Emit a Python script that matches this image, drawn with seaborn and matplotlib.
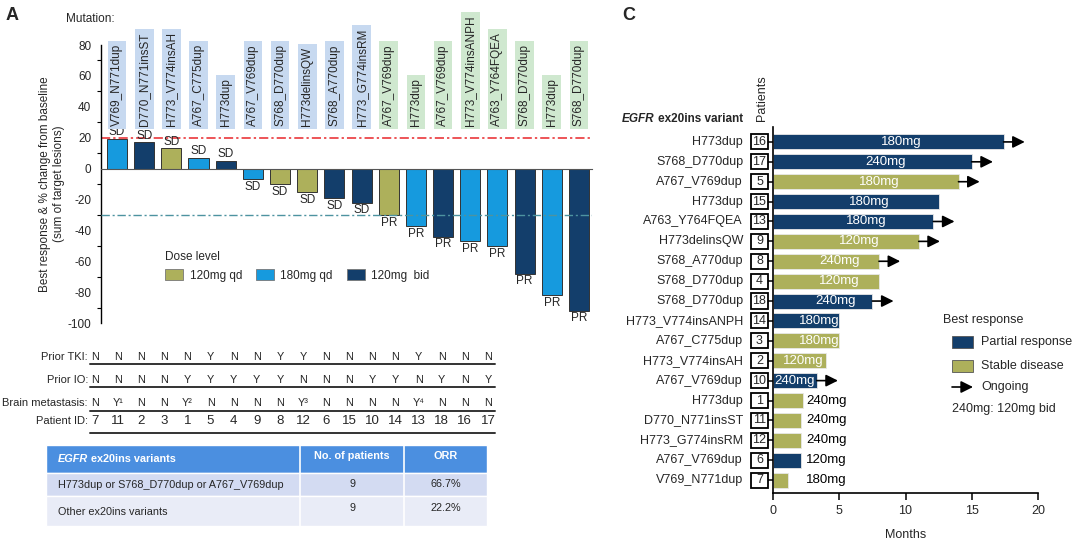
import numpy as np
import pandas as pd
import matplotlib
matplotlib.use('Agg')
import matplotlib.pyplot as plt
import matplotlib.patches as mpatches
import matplotlib.transforms as mtransforms
from matplotlib.text import Annotation
from matplotlib.ticker import MultipleLocator
import seaborn as sns

# ---------------- Panel A data ----------------
patient_ids_a = ['7', '11', '2', '3', '1', '5', '4', '9', '8', '12', '6', '15', '10', '14', '13', '18', '16', '17']
best_change = [19, 17, 13, 7, 5, -7, -10, -15, -19, -22, -30, -37, -44, -47, -50, -68, -82, -92]
dose_a = ['180mg qd', '120mg  bid', '120mg qd', '180mg qd', '120mg  bid', '180mg qd', '120mg qd', '120mg qd',
          '120mg  bid', '120mg  bid', '120mg qd', '180mg qd', '120mg  bid', '180mg qd', '180mg qd', '120mg  bid',
          '180mg qd', '120mg  bid']
response_a = ['SD'] * 10 + ['PR'] * 8
mutations_a = ['V769_N771dup', 'D770_N771insST', 'H773_V774insAH', 'A767_C775dup', 'H773dup', 'A767_V769dup',
               'S768_D770dup', 'H773delinsQW', 'S768_A770dup', 'H773_G774insRM', 'A767_V769dup', 'H773dup',
               'A767_V769dup', 'H773_V774insANPH', 'A763_Y764FQEA', 'S768_D770dup', 'H773dup', 'S768_D770dup']
prior_tki = ['N', 'N', 'N', 'N', 'N', 'Y', 'N', 'N', 'Y', 'Y', 'N', 'N', 'N', 'N', 'Y', 'N', 'N', 'N']
prior_io = ['N', 'N', 'N', 'N', 'Y', 'Y', 'Y', 'Y', 'Y', 'N', 'N', 'N', 'Y', 'Y', 'N', 'Y', 'N', 'Y']
brain_met = ['N', 'Y¹', 'N', 'N', 'Y²', 'N', 'N', 'N', 'N', 'Y³', 'N', 'N', 'N', 'N', 'Y⁴', 'N', 'N', 'N']
dose_levels = ['120mg qd', '180mg qd', '120mg  bid']

# ORR table
orr_header = ['ex20ins variants', 'No. of patients', 'ORR']
orr_groups = ['H773dup or S768_D770dup or A767_V769dup', 'Other ex20ins variants']
orr_n = [9, 9]
orr_rate = ['66.7%', '22.2%']

# ---------------- Panel C data ----------------
variants_c = ['H773dup', 'S768_D770dup', 'A767_V769dup', 'H773dup', 'A763_Y764FQEA', 'H773delinsQW',
              'S768_A770dup', 'S768_D770dup', 'S768_D770dup', 'H773_V774insANPH', 'A767_C775dup',
              'H773_V774insAH', 'A767_V769dup', 'H773dup', 'D770_N771insST', 'H773_G774insRM',
              'A767_V769dup', 'V769_N771dup']
patients_c = ['16', '17', '5', '15', '13', '9', '8', '4', '18', '14', '3', '2', '10', '1', '11', '12', '6', '7']
months_c = [17.4, 15.0, 14.0, 12.5, 12.1, 11.0, 8.0, 8.0, 7.5, 5.0, 5.0, 4.0, 3.3, 2.3, 2.1, 2.1, 2.1, 1.1]
response_c = ['Partial response', 'Partial response', 'Stable disease', 'Partial response', 'Partial response',
              'Stable disease', 'Stable disease', 'Stable disease', 'Partial response', 'Partial response',
              'Stable disease', 'Stable disease', 'Partial response', 'Stable disease', 'Stable disease',
              'Stable disease', 'Partial response', 'Stable disease']
dose_c = ['180mg', '240mg', '180mg', '180mg', '180mg', '120mg', '240mg', '120mg', '240mg', '180mg', '180mg',
          '120mg', '240mg', '240mg', '240mg', '240mg', '120mg', '180mg']
ongoing_c = [True, True, True, False, True, True, True, False, True, False, False, False, True, False, False,
             False, False, False]
response_levels = ['Partial response', 'Stable disease']

# ---------------- Styling ----------------
sns.set_style('white')
plt.rcParams['font.family'] = ['Liberation Sans', 'DejaVu Sans']
plt.rcParams['axes.unicode_minus'] = False
OLIVE = '#adb05b'
BLUE = '#169ade'
NAVY = '#133e6b'
dose_palette = {'120mg qd': OLIVE, '180mg qd': BLUE, '120mg  bid': NAVY}
resp_palette = {'Partial response': NAVY, 'Stable disease': OLIVE}

W, H = 1080, 544
fig = plt.figure(figsize=(W / 100, H / 100), dpi=100)


def fx(x):
    return x / W


def fy(y):
    return 1 - y / H


# ================= Panel A =================
axA = fig.add_axes([fx(101), fy(323), (592 - 101) / W, (323 - 45) / H])
df_a = pd.DataFrame({'pid': patient_ids_a, 'change': best_change, 'dose': dose_a})
sns.barplot(data=df_a, x='pid', y='change', hue='dose', order=patient_ids_a, hue_order=dose_levels,
            palette=dose_palette, dodge=False, width=0.74, edgecolor='#333333', linewidth=0.7,
            saturation=1, legend=False, ax=axA)
axA.set_xlim(-0.59, 17.48)
axA.set_ylim(-100, 80)
for s in ['top', 'right']:
    axA.spines[s].set_visible(False)
axA.spines['bottom'].set_position(('data', 0))
axA.spines['bottom'].set_color('#555555')
axA.spines['left'].set_color('black')
axA.spines['left'].set_linewidth(1.0)
axA.tick_params(axis='x', length=0, labelbottom=False)
axA.set_xlabel('')
axA.set_yticks(np.arange(-100, 81, 20))
axA.yaxis.set_minor_locator(MultipleLocator(10))
axA.tick_params(axis='y', which='major', length=5, width=1, labelsize=8.5, pad=2, color='black')
axA.tick_params(axis='y', which='minor', length=3, width=0.8, left=True, color='black')
axA.set_ylabel('Best response & % change from baseline\n(sum of target lesions)', fontsize=8.5,
               labelpad=2, linespacing=1.15)

axA.axhline(20, color='#e8262a', lw=1.1, ls=(0, (6, 2, 1.5, 2)), zorder=1)
axA.axhline(-30, color='#4d93a0', lw=1.0, ls=(0, (6, 2, 1.5, 2)), zorder=3)

for i, (v, r, m) in enumerate(zip(best_change, response_a, mutations_a)):
    if v > 0:
        axA.text(i, v + 0.5, r, ha='center', va='bottom', fontsize=8.5, clip_on=False)
    else:
        axA.text(i, v - 1.2, r, ha='center', va='top', fontsize=8.5, clip_on=False)
    fc = '#c7d9f0' if r == 'SD' else '#cfe8cf'
    axA.text(i, 27.5, m, rotation=90, ha='center', va='bottom', fontsize=8.5, clip_on=False,
             bbox=dict(boxstyle='square,pad=0.28', fc=fc, ec='none'))

fig.text(fx(66), fy(19), 'Mutation:', va='center', ha='left', fontsize=8.5)

handlesA = [mpatches.Patch(fc=dose_palette[d], ec='#777777', lw=0.6) for d in dose_levels]
legA = fig.legend(handlesA, dose_levels, ncol=3, title='Dose level', loc='upper left',
                  bbox_to_anchor=(fx(163), fy(249)), frameon=False, fontsize=8.5, title_fontsize=8.5,
                  alignment='left', handlelength=1.5, handleheight=1.0, handletextpad=0.55,
                  columnspacing=1.2, borderpad=0.2, borderaxespad=0)

# Clinical table under panel A
row_labels = ['Prior TKI:', 'Prior IO:', 'Brain metastasis:', 'Patient ID:']
row_vals = [prior_tki, prior_io, brain_met, patient_ids_a]
row_y = [357, 380, 403, 421]
line_y = [364, 387, 411, 433]
col_x = np.linspace(95, 488, len(patient_ids_a))
for lab, vals, yy, ly in zip(row_labels, row_vals, row_y, line_y):
    fig.text(fx(88), fy(yy), lab, ha='right', va='center', fontsize=8)
    fsz = 9.5 if lab == 'Patient ID:' else 7.8
    for xx, v in zip(col_x, vals):
        fig.text(fx(xx), fy(yy), v, ha='center', va='center', fontsize=fsz)
    fig.add_artist(plt.Line2D([fx(90), fx(495)], [fy(ly), fy(ly)], color='#333333', lw=1.4,
                              transform=fig.transFigure))

# ORR table
tx0, tx1, cx1, cx2 = 46, 487, 300, 404
ty = [445, 473, 496, 526]
fills = ['#4b8fe0', '#d3dbf2', '#e9ecf7']
for k in range(3):
    fig.add_artist(mpatches.Rectangle((fx(tx0), fy(ty[k + 1])), (tx1 - tx0) / W, (ty[k + 1] - ty[k]) / H,
                                      transform=fig.transFigure, fc=fills[k], ec='white', lw=1.0))
for cx in [cx1, cx2]:
    fig.add_artist(plt.Line2D([fx(cx), fx(cx)], [fy(ty[0]), fy(ty[3])], color='white', lw=1.2,
                              transform=fig.transFigure))
hdr = fig.text(fx(58), fy(459), 'EGFR', ha='left', va='center', fontsize=7.8, color='white',
               weight='bold', style='italic', zorder=5)
ann = Annotation(orr_header[0], xy=(1, 0), xycoords=hdr, xytext=(3, 0), textcoords='offset pixels',
                 ha='left', va='bottom', fontsize=7.8, color='white', weight='bold', zorder=5)
fig.add_artist(ann)
fig.text(fx(352), fy(456), orr_header[1], ha='center', va='center', fontsize=7.8, color='white',
         weight='bold', zorder=5)
fig.text(fx(446), fy(456), orr_header[2], ha='center', va='center', fontsize=7.8, color='white',
         weight='bold', zorder=5)
for g, n, r, yy, yn in zip(orr_groups, orr_n, orr_rate, [485, 512], [484, 508]):
    fig.text(fx(58), fy(yy), g, ha='left', va='center', fontsize=7.8, zorder=5)
    fig.text(fx(352), fy(yn), str(n), ha='center', va='center', fontsize=7.8, zorder=5)
    fig.text(fx(446), fy(yn), r, ha='center', va='center', fontsize=7.8, zorder=5)

# ================= Panel C =================
axC = fig.add_axes([fx(773), fy(493), (1038 - 773) / W, (493 - 127) / H])
df_c = pd.DataFrame({'pid': patients_c, 'months': months_c, 'resp': response_c})
sns.barplot(data=df_c, x='months', y='pid', hue='resp', order=patients_c, hue_order=response_levels,
            palette=resp_palette, dodge=False, orient='h', width=0.75, edgecolor='#e8e8e8',
            linewidth=0.6, saturation=1, legend=False, ax=axC)
axC.set_xlim(0, 20)
axC.set_ylim(17.65, -0.75)
for s in ['top', 'right']:
    axC.spines[s].set_visible(False)
for s in ['left', 'bottom']:
    axC.spines[s].set_color('black')
    axC.spines[s].set_linewidth(1.2)
axC.set_xticks([0, 5, 10, 15, 20])
axC.tick_params(axis='x', length=5, width=1.1, labelsize=9, pad=4, color='black', bottom=True)
axC.tick_params(axis='y', length=3.6, width=1.1, color='black', left=True, labelleft=False)
axC.set_ylabel('')
axC.set_xlabel('Months', fontsize=9, labelpad=8)

blend = mtransforms.blended_transform_factory(axC.transAxes, axC.transData)
for i, (v, p, L, d, og) in enumerate(zip(variants_c, patients_c, months_c, dose_c, ongoing_c)):
    axC.text(-0.113, i, v, ha='right', va='center', fontsize=9, transform=blend, clip_on=False)
    axC.add_patch(mpatches.Rectangle((-0.083, i - 0.38), 0.064, 0.76, transform=blend, fc='white',
                                     ec='black', lw=1.3, clip_on=False))
    axC.text(-0.051, i, p, ha='center', va='center', fontsize=9, transform=blend, clip_on=False)
    if L >= 4:
        axC.text(L / 2 + (1.0 if L > 4.5 else 0.3), i, d, ha='center', va='center', fontsize=9.5,
                 color='white')
    elif L >= 3:
        axC.text(0.1, i, d, ha='left', va='center', fontsize=9.5, color='white')
    else:
        axC.text(2.5, i, d, ha='left', va='center', fontsize=9.5, color='black')
    if og:
        axC.annotate('', xy=(L + 1.6, i), xytext=(L, i), annotation_clip=False,
                     arrowprops=dict(arrowstyle='-|>,head_length=0.6,head_width=0.3', color='black',
                                     lw=1.2, mutation_scale=12, shrinkA=0, shrinkB=0))

fig.text(fx(762), fy(121), 'Patients', rotation=90, ha='center', va='bottom', fontsize=9)
t_var = fig.text(fx(743), fy(119), 'ex20ins variant', ha='right', va='center', fontsize=8.5, weight='bold')
fig.add_artist(Annotation('EGFR', xy=(0, 0), xycoords=t_var, xytext=(-3, 0), textcoords='offset pixels',
                          ha='right', va='bottom', fontsize=8.5, weight='bold', style='italic'))

# Legend C (manual)
fig.text(fx(943), fy(320), 'Best response', ha='left', va='center', fontsize=9)
for lab, yy in zip(response_levels, [342, 366]):
    fig.add_artist(mpatches.Rectangle((fx(952), fy(yy + 6)), 21 / W, 12 / H, transform=fig.transFigure,
                                      fc=resp_palette[lab], ec='#555555', lw=0.6))
    fig.text(fx(981), fy(yy), lab, ha='left', va='center', fontsize=9)
fig.add_artist(mpatches.FancyArrowPatch((fx(952), fy(387)), (fx(973), fy(387)), transform=fig.transFigure,
                                        arrowstyle='-|>,head_length=0.6,head_width=0.3', mutation_scale=12,
                                        color='black', lw=1.2, shrinkA=0, shrinkB=0))
fig.text(fx(981), fy(387), 'Ongoing', ha='left', va='center', fontsize=9)
fig.text(fx(952), fy(409), '240mg: 120mg bid', ha='left', va='center', fontsize=9)

fig.text(fx(6), fy(15), 'A', fontsize=13, weight='bold', va='center', ha='left')
fig.text(fx(622), fy(15), 'C', fontsize=13, weight='bold', va='center', ha='left')

fig.savefig('out.png', dpi=100)
